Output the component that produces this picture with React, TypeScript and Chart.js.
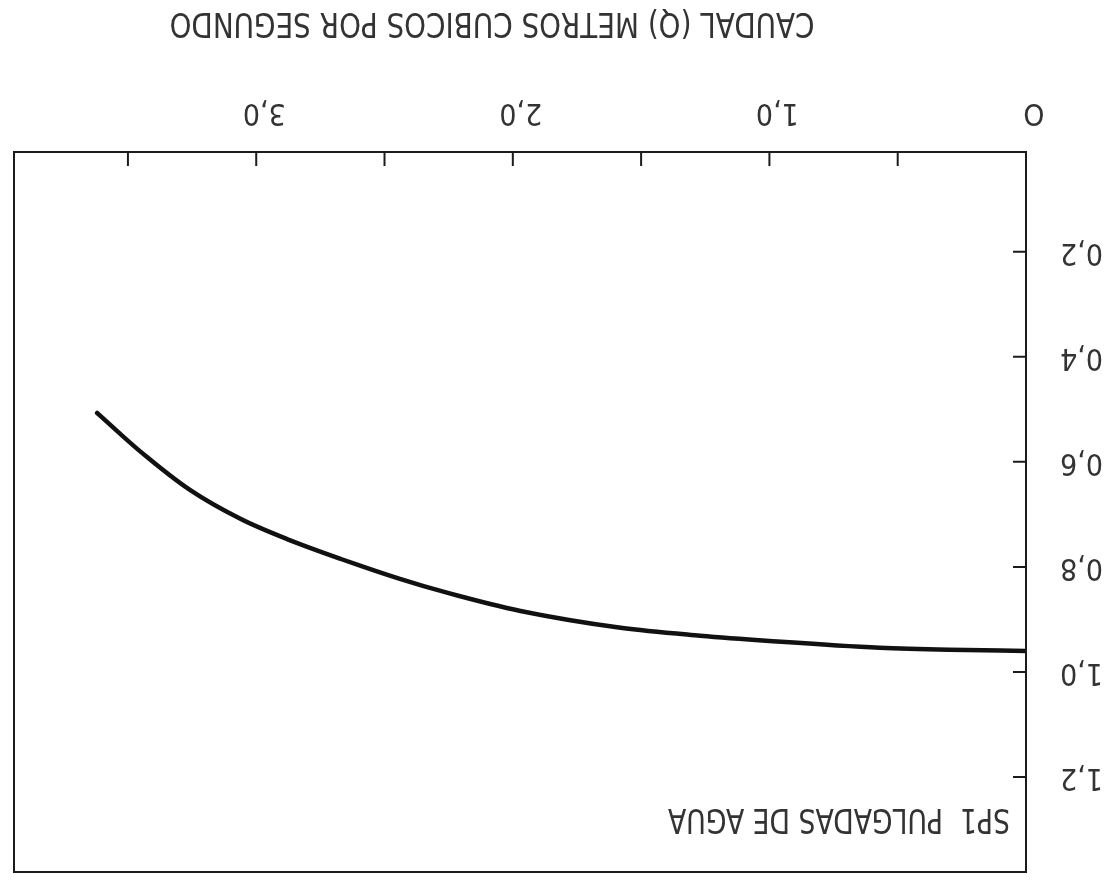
import React, { useEffect, useRef } from "react";
import { Chart, registerables } from "chart.js";

Chart.register(...registerables);

// Flow (m3/s) and head (pulgadas de agua)
const flowValues = [0, 0.3, 0.57, 1.0, 1.27, 1.58, 1.97, 2.25, 2.44, 2.67, 2.87, 3.06, 3.26, 3.45, 3.62];
const headValues = [0.96, 0.958, 0.954, 0.941, 0.931, 0.916, 0.884, 0.85, 0.823, 0.785, 0.749, 0.709, 0.653, 0.581, 0.507];

const xTickValues = [0, 0.5, 1, 1.5, 2, 2.5, 3, 3.5];
const xTickLabels = ["O", "", "1,0", "", "2,0", "", "3,0", ""];
const yTickValues = [0.2, 0.4, 0.6, 0.8, 1.0, 1.2];
const yTickLabels = ["0,2", "0,4", "0,6", "0,8", "1,0", "1,2"];

const xAxisTitle = "CAUDAL (Q) METROS CUBICOS POR SEGUNDO";
const curveLabel = "SP1  PULGADAS DE AGUA";

const xRange = [0, 3.944];
const yRange = [0.01, 1.381];

const FONT = '"DejaVu Sans Condensed", "Liberation Sans Narrow", "DejaVu Sans", sans-serif';
const INK = "#1c1c1c";
const TEXT = "#333333";

function drawFitted(
  ctx: CanvasRenderingContext2D,
  text: string,
  x: number,
  y: number,
  size: number,
  targetW: number,
  align: CanvasTextAlign
) {
  ctx.save();
  ctx.font = `${size}px ${FONT}`;
  const w = ctx.measureText(text).width || 1;
  ctx.translate(x, y);
  ctx.scale(targetW / w, 1);
  ctx.textAlign = align;
  ctx.textBaseline = "middle";
  ctx.fillStyle = TEXT;
  ctx.fillText(text, 0, 0);
  ctx.restore();
}

const framePlugin = {
  id: "framePlugin",
  afterDraw(chart: any) {
    const { ctx, chartArea } = chart;
    const { left, right, top, bottom } = chartArea;
    const xs = chart.scales.x;
    const ys = chart.scales.y;
    ctx.save();
    ctx.strokeStyle = INK;
    ctx.lineWidth = 2;
    ctx.strokeRect(left, top, right - left, bottom - top);
    ctx.beginPath();
    xTickValues.forEach((v) => {
      const px = xs.getPixelForValue(v);
      ctx.moveTo(px, bottom);
      ctx.lineTo(px, bottom - 14);
    });
    yTickValues.forEach((v) => {
      const py = ys.getPixelForValue(v);
      ctx.moveTo(left, py);
      ctx.lineTo(left + 13, py);
    });
    ctx.stroke();
    ctx.restore();

    drawFitted(ctx, xAxisTitle, (left + right) / 2 + 28, 862, 34, 645, "center");
    drawFitted(ctx, curveLabel, left + 16, top + 54, 34, 342, "left");
  },
};

export default function App() {
  const canvasRef = useRef<HTMLCanvasElement | null>(null);

  useEffect(() => {
    const canvas = canvasRef.current;
    if (!canvas) return;
    const points = flowValues.map((x, i) => ({ x, y: headValues[i] }));
    const chart = new Chart(canvas, {
      type: "scatter",
      data: {
        datasets: [
          {
            data: points,
            showLine: true,
            borderColor: "#111",
            borderWidth: 4.5,
            pointRadius: 0,
            cubicInterpolationMode: "monotone",
            borderCapStyle: "round",
            fill: false,
          } as any,
        ],
      },
      options: {
        responsive: false,
        animation: false,
        devicePixelRatio: 1,
        layout: { padding: { left: 0, right: 14, top: 12, bottom: 0 } },
        plugins: {
          legend: { display: false },
          tooltip: { enabled: false },
          title: { display: false },
        },
        scales: {
          x: {
            type: "linear",
            position: "bottom",
            min: xRange[0],
            max: xRange[1],
            grid: { display: false },
            border: { display: false },
            afterBuildTicks: (scale: any) => {
              scale.ticks = xTickValues.map((value) => ({ value }));
            },
            afterFit: (scale: any) => {
              scale.height = 152;
              scale.paddingLeft = 0;
              scale.paddingRight = 0;
            },
            ticks: {
              autoSkip: false,
              maxRotation: 0,
              minRotation: 0,
              padding: 14,
              labelOffset: -8,
              color: TEXT,
              font: { family: FONT, size: 30 },
              callback: (_v: any, i: number) => xTickLabels[i],
            },
          },
          y: {
            type: "linear",
            position: "left",
            min: yRange[0],
            max: yRange[1],
            grid: { display: false },
            border: { display: false },
            afterBuildTicks: (scale: any) => {
              scale.ticks = yTickValues.map((value) => ({ value }));
            },
            afterFit: (scale: any) => {
              scale.width = 89;
              scale.paddingTop = 0;
              scale.paddingBottom = 0;
            },
            ticks: {
              autoSkip: false,
              padding: 26,
              color: TEXT,
              font: { family: FONT, size: 30 },
              callback: (_v: any, i: number) => yTickLabels[i],
            },
          },
        },
      },
      plugins: [framePlugin],
    });
    return () => chart.destroy();
  }, []);

  return (
    <div
      style={{
        position: "fixed",
        left: 0,
        top: 0,
        width: 1115,
        height: 884,
        background: "#fff",
        transform: "rotate(180deg)",
      }}
    >
      <canvas ref={canvasRef} width={1115} height={884} style={{ display: "block" }} />
    </div>
  );
}
